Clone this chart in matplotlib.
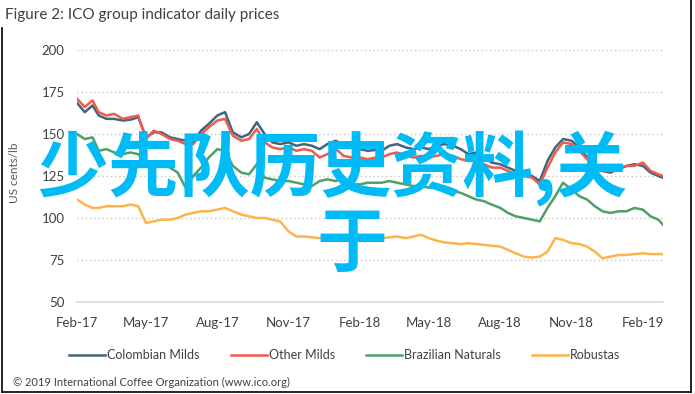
import pandas as pd
import numpy as np
import matplotlib
matplotlib.use('Agg')
import matplotlib.pyplot as plt
import matplotlib.dates as mdates
from matplotlib.lines import Line2D

# Daily prices at the 1st, 11th and 21st of each month (+ last day)
months = pd.date_range('2017-02-01', '2019-02-01', freq='MS')
dates = [m + pd.Timedelta(days=d) for m in months for d in (0, 10, 20)]
dates.append(pd.Timestamp('2019-02-27'))

colombian = [168.5, 163, 167, 161, 159, 159, 158, 158.5, 160, 148, 151, 151,
             148, 147, 146, 145, 152, 156, 161, 163, 151, 148, 150, 157,
             150, 145, 144, 145, 143, 144, 143, 141, 144, 146, 143, 142,
             141, 140, 140.5, 140, 143, 144, 142, 141, 142, 141, 143, 144,
             143, 141, 138, 139, 136, 133, 132, 130, 128, 126.5, 125, 122,
             134, 142, 147, 146, 142, 136, 131, 128, 127, 129, 131, 132,
             131, 127, 125, 124]
other = [171, 166, 170, 163, 161, 162, 159, 160, 161, 147, 152, 150,
         147, 146, 144, 144, 150, 154, 158, 159, 149, 146, 147, 153,
         145, 142, 141, 142, 140, 141, 140, 136, 138, 141, 137, 136,
         136, 135, 136, 136, 138, 139, 137, 136, 137, 136, 137, 138,
         137, 135, 134, 134, 132, 130, 130, 128, 126, 125, 124, 120,
         130, 139, 145, 144, 140, 135, 130, 128, 128, 130, 131, 131,
         133, 128, 126, 125]
brazilian = [150, 147, 148, 140, 141, 139, 138, 139, 138, 133, 131, 132,
             130, 127, 118, 125, 130, 136, 141, 140, 131, 127, 126, 132,
             124, 123, 122, 122, 121, 120, 119, 122, 123, 122, 124, 120,
             120, 121, 121, 121, 122, 121, 120, 119, 119, 118, 118, 117,
             116, 115, 113, 111, 110, 108, 106, 103, 101, 100, 99, 98,
             106, 113, 121, 117, 113, 111, 107, 104, 103, 104, 104, 106,
             105, 101, 99, 96]
robustas = [111, 108, 106, 106, 107, 107, 107, 108, 107, 97, 98, 99,
            99, 100, 102, 103, 104, 104, 105, 106, 104, 102, 101, 100,
            100, 99, 98, 92, 89, 89, 88.5, 88, 89, 88.5, 89, 88.5,
            88, 88, 87.5, 88, 88.5, 89, 88, 89, 90, 88, 86.5, 85.5,
            85, 84.5, 85, 84.5, 84, 83.5, 83, 81, 79, 77, 76.5, 77,
            80, 88, 87, 85, 84.5, 83, 80, 76, 77, 78, 78, 78.5,
            79, 78.5, 78.5, 78.5]

names = ['Colombian Milds', 'Other Milds', 'Brazilian Naturals', 'Robustas']
colors = ['#41657e', '#f05a4a', '#4fa067', '#fdb44b']
series = [colombian, other, brazilian, robustas]

plt.rcParams['font.family'] = ['Lato', 'DejaVu Sans']

fig = plt.figure(figsize=(6.95, 3.94), dpi=100)
ax = fig.add_axes([77/695, 1-302/394, (663-77)/695, (302-50)/394])

for vals, c, n in zip(series, colors, names):
    ax.plot(dates, vals, color=c, lw=1.8, label=n)

ax.set_ylim(50, 200)
ax.set_yticks(np.arange(50, 201, 25))
ax.set_xlim(pd.Timestamp('2017-02-01'), pd.Timestamp('2019-02-27'))
ax.set_xticks(pd.date_range('2017-02-01', '2019-02-01', freq='3MS'))
ax.xaxis.set_major_formatter(mdates.DateFormatter('%b-%y'))
ax.tick_params(length=0, labelsize=9.5, colors='#404040')
ax.tick_params(axis='y', pad=9)
ax.tick_params(axis='x', pad=11)

ax.grid(axis='y', color='#c8c8c8', linestyle=(0, (1, 2)), lw=1)
for s in ['top', 'right', 'left']:
    ax.spines[s].set_visible(False)
ax.spines['bottom'].set_color('#d9d9d9')
ax.spines['bottom'].set_linewidth(1.2)

fig.legend(loc='center', bbox_to_anchor=(0.496, 1-355/394), ncol=4, frameon=False,
           fontsize=9, handlelength=2.9, handletextpad=0.15, columnspacing=2.5,
           labelcolor='#404040')

fig.text(5/695, 1-15/394, 'Figure 2: ICO group indicator daily prices',
         fontsize=11, color='#404040', va='center')
fig.text(15/695, 1-173/394, 'US cents/lb', rotation=90, fontsize=8.5,
         color='#595959', va='center', ha='center')
fig.text(13/695, 1-382/394, '\u00a9 2019 International Coffee Organization (www.ico.org)',
         fontsize=8, color='#404040', va='center')

# watermark text over the plot
fig.text(37/695, 1-169/394, '少先队历史资料,关', fontsize=51, color='#00bbf5',
         family=['Noto Sans CJK SC', 'DejaVu Sans'], weight='bold',
         va='center', ha='left', zorder=10)
fig.text(352/695, 1-245/394, '于', fontsize=51, color='#00bbf5',
         family=['Noto Sans CJK SC', 'DejaVu Sans'], weight='bold',
         va='center', ha='center', zorder=10)

# outer frame
for xs, ys in [([1.5/695, 1.5/695], [1-28/394, 1-392/394]),
               ([1.5/695, 690.5/695], [1-392/394, 1-392/394]),
               ([690.5/695, 690.5/695], [1, 1-392/394])]:
    fig.add_artist(Line2D(xs, ys, color='black', lw=1.2))

fig.savefig('out.png', dpi=100)
